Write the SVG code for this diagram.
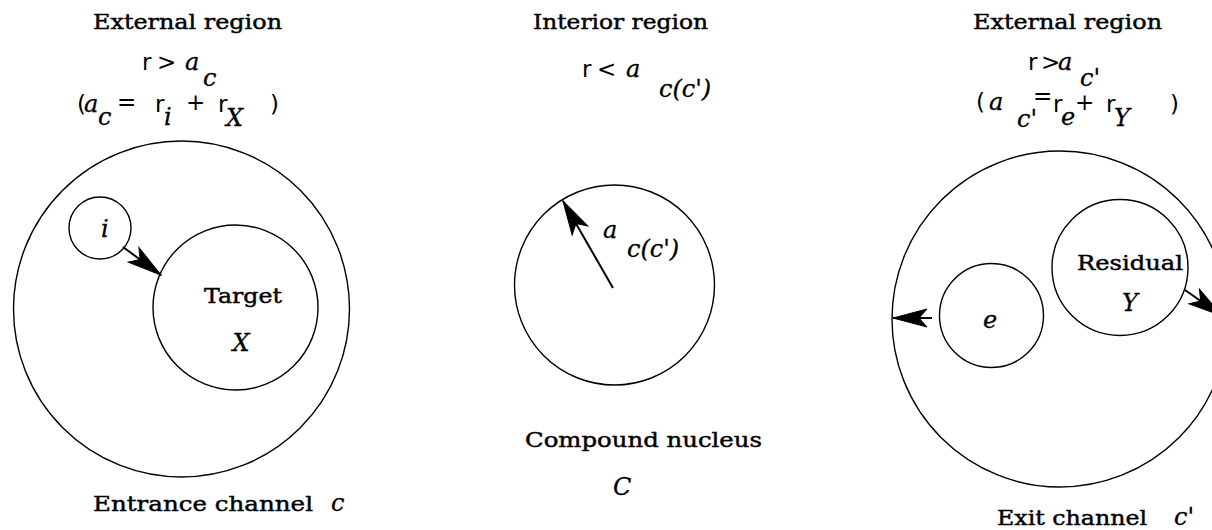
<svg xmlns="http://www.w3.org/2000/svg" width="1212" height="530" viewBox="0 0 1212 530">
<style>
.c{fill:none;stroke:#000;stroke-width:1.4}
.l{font-family:"DejaVu Serif","Liberation Serif",serif;font-size:21px;fill:#000;stroke:#000;stroke-width:0.45}
.m{font-family:"DejaVu Sans","Liberation Sans",sans-serif;font-size:23px;fill:#000}
.i{font-family:"DejaVu Serif","Liberation Serif",serif;font-style:italic;font-size:24px;fill:#000;stroke:#000;stroke-width:0.3}
.a{stroke:#000;stroke-width:2;fill:none}
</style>
<defs>
<marker id="ah" markerUnits="userSpaceOnUse" markerWidth="40" markerHeight="24" viewBox="-38 -12 40 24" refX="0" refY="0" orient="auto">
<path d="M0,0 L-34,-9 L-26,0 L-34,9 Z" fill="#000" stroke="#000" stroke-width="1"/>
</marker>
</defs>
<g id="left-labels">
<text class="l" x="93" y="29" textLength="189" lengthAdjust="spacingAndGlyphs">External region</text>
<text class="m" x="142" y="70">r</text><text class="m" x="157" y="70">&gt;</text><text class="i" x="185" y="70">a</text><text class="i" x="203" y="86">c</text>
<text class="m" x="77" y="112">(</text><text class="i" x="84" y="112">a</text><text class="i" x="98" y="125">c</text><text class="m" x="117" y="110">=</text><text class="m" x="155" y="112">r</text><text class="i" x="164" y="125">i</text><text class="m" x="186" y="110">+</text><text class="m" x="218" y="112">r</text><text class="i" x="226" y="126">X</text><text class="m" x="270" y="112">)</text>
<text class="l" x="93" y="511" textLength="220" lengthAdjust="spacingAndGlyphs">Entrance channel</text><text class="i" x="331" y="511">c</text>
</g>
<g id="entrance-region"><circle class="c" cx="181.5" cy="309" r="168"/></g>
<g id="particle-i"><circle class="c" cx="100" cy="228" r="31"/><text class="i" x="101" y="237" font-size="28">i</text></g>
<g id="target-X"><circle class="c" cx="235.5" cy="307.5" r="82.5"/>
<text class="l" x="243" y="303" text-anchor="middle" textLength="78" lengthAdjust="spacingAndGlyphs">Target</text>
<text class="i" x="241" y="351" text-anchor="middle" font-size="28">X</text></g>
<g id="middle-labels">
<text class="l" x="533" y="29" textLength="175" lengthAdjust="spacingAndGlyphs">Interior region</text>
<text class="m" x="582" y="77">r</text><text class="m" x="597" y="77">&lt;</text><text class="i" x="626" y="77">a</text><text class="i" x="659" y="97">c(c')</text>
<text class="l" x="525" y="447" textLength="237" lengthAdjust="spacingAndGlyphs">Compound nucleus</text>
<text class="i" x="613" y="495" font-size="26">C</text>
</g>
<g id="compound-nucleus"><circle class="c" cx="614.5" cy="285" r="100"/>
<text class="i" x="603" y="238" font-size="30">a</text><text class="i" x="627" y="257" font-size="23">c(c')</text></g>
<g id="right-labels">
<text class="l" x="973" y="29" textLength="189" lengthAdjust="spacingAndGlyphs">External region</text>
<text class="m" x="1028" y="70">r</text><text class="m" x="1041" y="70">&gt;</text><text class="i" x="1058" y="70">a</text><text class="i" x="1080" y="86">c'</text>
<text class="m" x="976" y="110">(</text><text class="i" x="989" y="110">a</text><text class="i" x="1017" y="127">c'</text><text class="m" x="1033" y="104">=</text><text class="m" x="1053" y="112">r</text><text class="i" x="1061" y="125">e</text><text class="m" x="1075" y="110">+</text><text class="m" x="1106" y="112">r</text><text class="i" x="1114" y="126">Y</text><text class="m" x="1170" y="112">)</text>
<text class="l" x="997" y="525" textLength="150" lengthAdjust="spacingAndGlyphs">Exit channel</text><text class="i" x="1174" y="525">c'</text>
</g>
<g id="exit-region"><circle class="c" cx="1060" cy="319" r="168"/></g>
<g id="particle-e"><circle class="c" cx="991.5" cy="315.5" r="52"/><text class="i" x="990" y="328" text-anchor="middle" font-size="28">e</text></g>
<g id="residual-Y"><circle class="c" cx="1120" cy="267.5" r="68"/>
<text class="l" x="1130" y="270" text-anchor="middle" textLength="106" lengthAdjust="spacingAndGlyphs">Residual</text>
<text class="i" x="1130" y="311" text-anchor="middle" font-size="28">Y</text></g>
<g id="connectors">
<line class="a" x1="123" y1="247" x2="161" y2="275" marker-end="url(#ah)"/>
<line class="a" x1="613" y1="288" x2="563" y2="201" marker-end="url(#ah)"/>
<line class="a" x1="932" y1="318" x2="893" y2="318" marker-end="url(#ah)"/>
<line class="a" x1="1185" y1="290" x2="1222" y2="316" marker-end="url(#ah)"/>
</g>
</svg>
